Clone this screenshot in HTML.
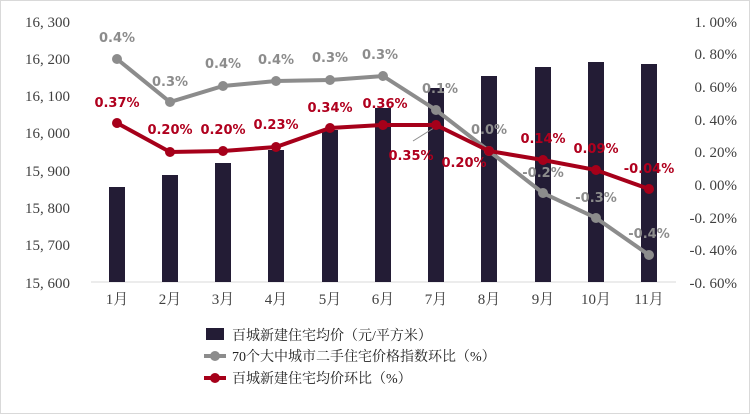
<!DOCTYPE html>
<html><head><meta charset="utf-8"><style>
body{margin:0;background:#fff}
svg{display:block}
.ax{font-family:"Liberation Serif","Noto Serif CJK SC",serif;font-size:15px;fill:#404040}
.g{font-family:"DejaVu Sans",sans-serif;font-size:13px;font-weight:bold;fill:#8c8c8c;text-anchor:middle}
.r{font-family:"DejaVu Sans",sans-serif;font-size:13px;font-weight:bold;fill:#b0001e;text-anchor:middle}
.lg{font-family:"Liberation Serif","Noto Serif CJK SC",serif;font-size:14px;fill:#222}
</style></head><body>
<svg width="750" height="414" viewBox="0 0 750 414">
<rect x="0.5" y="0.5" width="749" height="413" fill="#fff" stroke="#d9d9d9"/>
<g class="ax" text-anchor="end">
<text x="70" y="27">16, 300</text><text x="70" y="64">16, 200</text><text x="70" y="101">16, 100</text><text x="70" y="138">16, 000</text><text x="70" y="176">15, 900</text><text x="70" y="213">15, 800</text><text x="70" y="250">15, 700</text><text x="70" y="288">15, 600</text>
</g>
<g class="ax" text-anchor="end">
<text x="737" y="27">1. 00%</text><text x="737" y="59">0. 80%</text><text x="737" y="92">0. 60%</text><text x="737" y="125">0. 40%</text><text x="737" y="157">0. 20%</text><text x="737" y="190">0. 00%</text><text x="737" y="223">-0. 20%</text><text x="737" y="255">-0. 40%</text><text x="737" y="288">-0. 60%</text>
</g>
<line x1="91" y1="282" x2="676" y2="282" stroke="#d9d9d9" stroke-width="1"/>
<g fill="#231c35">
<rect x="109" y="187" width="16" height="95"/><rect x="162" y="175" width="16" height="107"/><rect x="215" y="163" width="16" height="119"/><rect x="268" y="150" width="16" height="132"/><rect x="322" y="130" width="16" height="152"/><rect x="375" y="108" width="16" height="174"/><rect x="428" y="88" width="16" height="194"/><rect x="481" y="76" width="16" height="206"/><rect x="535" y="67" width="16" height="215"/><rect x="588" y="62" width="16" height="220"/><rect x="641" y="64" width="16" height="218"/>
</g>
<g class="ax" text-anchor="middle">
<text x="117" y="304">1月</text><text x="170" y="304">2月</text><text x="223" y="304">3月</text><text x="276" y="304">4月</text><text x="330" y="304">5月</text><text x="383" y="304">6月</text><text x="436" y="304">7月</text><text x="489" y="304">8月</text><text x="543" y="304">9月</text><text x="596" y="304">10月</text><text x="649" y="304">11月</text>
</g>
<polyline points="117,59 170,102 223,86 276,81 330,80 383,76 436,110 489,151 543,193 596,218 649,255" fill="none" stroke="#8c8c8c" stroke-width="4"/>
<g fill="#8c8c8c"><circle cx="117" cy="59" r="5"/><circle cx="170" cy="102" r="5"/><circle cx="223" cy="86" r="5"/><circle cx="276" cy="81" r="5"/><circle cx="330" cy="80" r="5"/><circle cx="383" cy="76" r="5"/><circle cx="436" cy="110" r="5"/><circle cx="489" cy="151" r="5"/><circle cx="543" cy="193" r="5"/><circle cx="596" cy="218" r="5"/><circle cx="649" cy="255" r="5"/></g>
<line x1="437" y1="126" x2="413" y2="141" stroke="#8c8c8c" stroke-width="1"/>
<polyline points="117,123 170,152 223,151 276,147 330,128 383,125 436,125 489,151 543,160 596,170 649,189" fill="none" stroke="#a6001a" stroke-width="4"/>
<g fill="#a6001a"><circle cx="117" cy="123" r="5"/><circle cx="170" cy="152" r="5"/><circle cx="223" cy="151" r="5"/><circle cx="276" cy="147" r="5"/><circle cx="330" cy="128" r="5"/><circle cx="383" cy="125" r="5"/><circle cx="436" cy="125" r="5"/><circle cx="489" cy="151" r="5"/><circle cx="543" cy="160" r="5"/><circle cx="596" cy="170" r="5"/><circle cx="649" cy="189" r="5"/></g>
<g class="g">
<text x="117" y="42">0.4%</text><text x="170" y="86">0.3%</text><text x="223" y="68">0.4%</text><text x="276" y="64">0.4%</text><text x="330" y="62">0.3%</text><text x="380" y="59">0.3%</text><text x="440" y="93">0.1%</text><text x="489" y="134">0.0%</text><text x="543" y="177">-0.2%</text><text x="596" y="202">-0.3%</text><text x="649" y="238">-0.4%</text>
</g>
<g class="r">
<text x="117" y="107">0.37%</text><text x="170" y="134">0.20%</text><text x="223" y="134">0.20%</text><text x="276" y="129">0.23%</text><text x="330" y="112">0.34%</text><text x="385" y="108">0.36%</text><text x="411" y="160">0.35%</text><text x="464" y="167">0.20%</text><text x="543" y="143">0.14%</text><text x="596" y="153">0.09%</text><text x="649" y="173">-0.04%</text>
</g>
<rect x="206" y="328" width="18" height="12" fill="#231c35"/>
<text class="lg" x="232" y="340">百城新建住宅均价（元/平方米）</text>
<line x1="204" y1="356" x2="226" y2="356" stroke="#8c8c8c" stroke-width="4"/><circle cx="215" cy="356" r="5" fill="#8c8c8c"/>
<text class="lg" x="232" y="361">70个大中城市二手住宅价格指数环比（%）</text>
<line x1="204" y1="378" x2="226" y2="378" stroke="#a6001a" stroke-width="4"/><circle cx="215" cy="378" r="5" fill="#a6001a"/>
<text class="lg" x="232" y="383">百城新建住宅均价环比（%）</text>
</svg>
</body></html>
